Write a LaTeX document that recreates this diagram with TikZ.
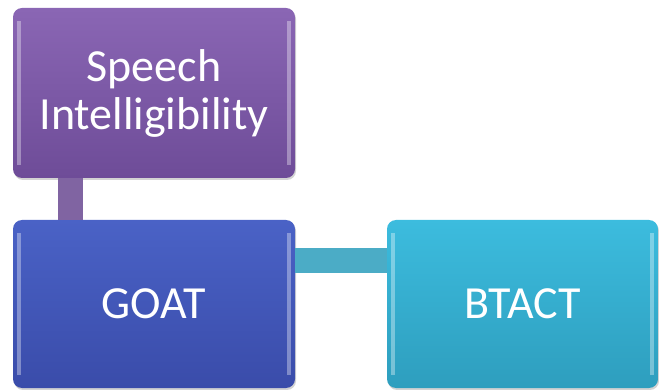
\documentclass[tikz,border=0pt]{standalone}
\usepackage{fontspec}
\setmainfont{Carlito}
\usetikzlibrary{shadows}
\definecolor{purpA}{HTML}{8A66B4}
\definecolor{purpB}{HTML}{6E4C98}
\definecolor{blueA}{HTML}{4A62C6}
\definecolor{blueB}{HTML}{3A4CAA}
\definecolor{tealA}{HTML}{3CBCDE}
\definecolor{tealB}{HTML}{2E9EBE}
\definecolor{purpLink}{HTML}{8064A2}
\definecolor{tealLink}{HTML}{4BACC6}
\tikzset{
  box/.style={rounded corners=9pt, minimum width=282pt, text=white,
    font=\fontsize{46}{48}\selectfont, align=center, inner sep=0pt,
    drop shadow={shadow xshift=1pt, shadow yshift=-2pt, opacity=0.35}},
  link/.style={line width=25pt},
  bevel/.style={white, opacity=0.35, line width=4pt}
}
\begin{document}
\begin{tikzpicture}[x=1pt,y=-1pt]
\useasboundingbox (0,0) rectangle (659,390);
\node[box, top color=purpA, bottom color=purpB, minimum height=170pt, minimum width=282pt] (sp) at (154,93) {Speech\\Intelligibility};
\node[box, top color=blueA, bottom color=blueB, minimum height=168pt, minimum width=282pt] (goat) at (154,304) {GOAT};
\node[box, top color=tealA, bottom color=tealB, minimum height=168pt, minimum width=271pt] (bt) at (522.5,304) {BTACT};
\draw[link, purpLink] ([xshift=57.5pt]sp.south west) -- ([xshift=57.5pt]goat.north west);
\draw[link, tealLink] ([yshift=-40.5pt]goat.north east) -- ([yshift=-40.5pt]bt.north west);
\foreach \n in {sp, goat, bt}{
  \draw[bevel] ([xshift=6pt,yshift=-13pt]\n.north west) -- ([xshift=6pt,yshift=13pt]\n.south west);
  \draw[bevel] ([xshift=-6pt,yshift=-13pt]\n.north east) -- ([xshift=-6pt,yshift=13pt]\n.south east);
}
\end{tikzpicture}
\end{document}
